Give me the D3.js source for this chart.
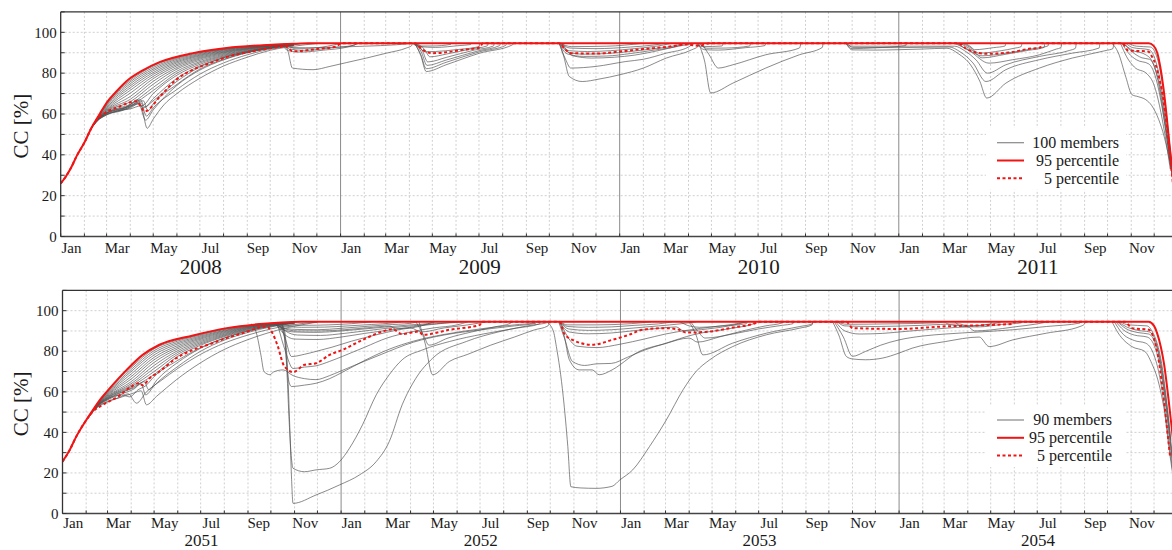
<!DOCTYPE html>
<html><head><meta charset="utf-8">
<script src="https://cdn.jsdelivr.net/npm/d3@7"></script>
<style>
body{margin:0;background:#fff}
svg{display:block}
text{font-family:"Liberation Serif","Times New Roman",serif;fill:#1a1a1a}
</style>
</head><body>
<svg id="chart" width="1172" height="550"></svg>
<script>
// ---------------- DATA ----------------
const monthLabels = ["Jan","Mar","May","Jul","Sep","Nov"];
const monthLabelIdx = [0,2,4,6,8,10];
const yTicks = [0,20,40,60,80,100];
const topYears = ["2008","2009","2010","2011"];
const botYears = ["2051","2052","2053","2054"];
const topLegend = ["100 members","95 percentile","5 percentile"];
const botLegend = ["90 members","95 percentile","5 percentile"];

// ----- top panel (2008-2011) -----
const topP95 = [["2008-01-01",26],["2008-01-08",29.5],["2008-01-15",34],["2008-01-22",39.5],["2008-02-01",46],["2008-02-10",53],["2008-02-21",60],["2008-03-01",65.5],["2008-03-15",71.5],["2008-03-27",76],["2008-04-18",81.5],["2008-05-10",85.5],["2008-06-22",89.8],["2008-08-05",92.3],["2008-09-17",93.6],["2008-10-31",94.4],["2008-11-20",94.6],["2011-11-24",94.6],["2011-11-30",93.5],["2011-12-05",90],["2011-12-09",83],["2011-12-13",73],["2011-12-17",60],["2011-12-21",45],["2011-12-27",25]];

const topP5 = [["2008-01-01",26],["2008-01-08",29.5],["2008-01-15",34],["2008-01-22",39.5],["2008-02-01",46],["2008-02-10",53],["2008-02-18",57.5],["2008-02-28",60.5],["2008-03-16",63.4],["2008-04-09",66.2],["2008-04-20",61.3],["2008-05-10",68.6],["2008-05-31",76.8],["2008-06-22",81.7],["2008-07-14",84.9],["2008-08-05",87.9],["2008-08-27",89.8],["2008-09-17",91.4],["2008-10-13",92.8],["2008-10-22",93.2],["2008-10-30",90.7],["2008-12-01",91.8],["2008-12-26",93],["2009-01-02",94.6],
["2009-04-08",94.6],["2009-04-18",91.5],["2009-04-30",89.8],["2009-05-20",90.3],["2009-06-09",91.4],["2009-07-02",92.6],["2009-07-06",94.6],
["2009-10-14",94.6],["2009-10-22",91.5],["2009-10-29",89.8],["2009-12-01",89.6],["2010-01-01",90.6],["2010-02-01",91.8],["2010-03-03",92.8],["2010-03-30",94],["2010-04-14",93.4],["2010-04-29",94.6],
["2011-03-20",94.6],["2011-03-30",92],["2011-04-08",90.6],["2011-04-25",89.5],["2011-05-25",90.1],["2011-06-20",91.9],["2011-07-05",92.5],["2011-07-06",94.6],
["2011-10-20",94.6],["2011-10-28",91.1],["2011-11-23",90.6],["2011-11-28",88.2],["2011-12-03",84],["2011-12-08",76.8],["2011-12-13",67],["2011-12-17",55.6],["2011-12-21",42],["2011-12-26",24]];

const topMembers = [
// spring 2008 growth bundle
[["2008-02-10",53],["2008-02-18",58.2],["2008-03-01",65.2],["2008-04-01",76.5],["2008-05-01",83.5],["2008-06-01",87.8],["2008-07-01",90.3],["2008-08-01",91.9],["2008-09-01",93.1],["2008-10-01",93.9],["2008-11-01",94.4]],
[["2008-02-10",53],["2008-02-18",58.1],["2008-03-01",64.8],["2008-04-01",75.7],["2008-05-01",82.8],["2008-06-01",87.3],["2008-07-01",90],["2008-08-01",91.7],["2008-09-01",93],["2008-10-01",93.8],["2008-11-01",94.4]],
[["2008-02-10",53],["2008-02-18",58],["2008-03-01",64.3],["2008-04-01",74.8],["2008-05-01",82],["2008-06-01",86.8],["2008-07-01",89.6],["2008-08-01",91.5],["2008-09-01",92.8],["2008-10-01",93.7],["2008-11-01",94.3]],
[["2008-02-10",53],["2008-02-18",57.9],["2008-03-01",63.8],["2008-04-01",73.8],["2008-05-01",81.2],["2008-06-01",86.2],["2008-07-01",89.2],["2008-08-01",91.2],["2008-09-01",92.6],["2008-10-01",93.6],["2008-11-01",94.3]],
[["2008-02-10",53],["2008-02-18",57.8],["2008-03-01",63.2],["2008-04-01",72.8],["2008-05-01",80.3],["2008-06-01",85.6],["2008-07-01",88.8],["2008-08-01",90.9],["2008-09-01",92.4],["2008-10-01",93.5],["2008-11-01",94.3]],
[["2008-02-10",53],["2008-02-18",57.7],["2008-03-01",62.7],["2008-04-01",71.6],["2008-05-01",79.4],["2008-06-01",85],["2008-07-01",88.4],["2008-08-01",90.6],["2008-09-01",92.2],["2008-10-01",93.4],["2008-11-01",94.2]],
[["2008-02-10",53],["2008-02-18",57.6],["2008-03-01",62.2],["2008-04-01",70.2],["2008-05-01",78.4],["2008-06-01",84.3],["2008-07-01",87.9],["2008-08-01",90.3],["2008-09-01",92],["2008-10-01",93.3],["2008-11-01",94.2]],
[["2008-02-10",53],["2008-02-18",57.5],["2008-03-01",61.8],["2008-04-01",68.6],["2008-05-01",77.3],["2008-06-01",83.6],["2008-07-01",87.4],["2008-08-01",90],["2008-09-01",91.8],["2008-10-01",93.2],["2008-11-01",94.1]],
[["2008-02-10",53],["2008-02-18",57.4],["2008-03-01",61.5],["2008-04-01",67.2],["2008-05-01",76],["2008-06-01",82.8],["2008-07-01",86.9],["2008-08-01",89.6],["2008-09-01",91.6],["2008-10-01",93],["2008-11-01",94.1]],
[["2008-02-10",53],["2008-02-18",57.3],["2008-03-01",61.2],["2008-04-01",66],["2008-05-01",74.6],["2008-06-01",82],["2008-07-01",86.3],["2008-08-01",89.2],["2008-09-01",91.3],["2008-10-01",92.9],["2008-11-01",94]],
[["2008-02-10",53],["2008-02-18",57.2],["2008-03-01",60.8],["2008-04-01",64.8],["2008-05-01",73],["2008-06-01",81],["2008-07-01",85.6],["2008-08-01",88.8],["2008-09-01",91],["2008-10-01",92.7],["2008-11-01",94]],
[["2008-02-10",53],["2008-02-18",57.2],["2008-03-01",60.5],["2008-04-01",64],["2008-05-01",71.5],["2008-06-01",80],["2008-07-01",85],["2008-08-01",88.4],["2008-09-01",90.8],["2008-10-01",92.6],["2008-11-01",93.9]],
[["2008-02-10",53],["2008-02-18",57],["2008-03-01",60.3],["2008-04-01",63.5],["2008-04-10",65.5],["2008-04-16",64],["2008-05-01",70],["2008-06-01",79],["2008-07-01",84.3],["2008-08-01",88],["2008-09-01",90.5],["2008-10-01",92.4],["2008-11-01",93.8]],
[["2008-02-10",53],["2008-02-18",57],["2008-03-01",60],["2008-03-20",62],["2008-04-01",64.5],["2008-04-14",67],["2008-04-20",63.5],["2008-05-01",67.5],["2008-06-01",77.5],["2008-07-01",83.5],["2008-08-01",87.6],["2008-09-01",90.2],["2008-10-01",92.2],["2008-11-01",93.7]],
[["2008-02-10",53],["2008-02-18",56.8],["2008-03-01",59.8],["2008-03-20",61.5],["2008-04-01",63.5],["2008-04-12",65],["2008-04-21",57],["2008-05-01",62],["2008-06-01",74],["2008-07-01",81.5],["2008-08-01",86.5],["2008-09-01",90],["2008-10-01",92.3],["2008-11-01",93.9],["2008-11-10",94.5]],
[["2008-02-10",53],["2008-02-18",57],["2008-03-01",60.5],["2008-04-01",64.5],["2008-04-10",67],["2008-04-18",63],["2008-05-01",66.5],["2008-06-01",76],["2008-07-01",83],["2008-08-01",87.5],["2008-09-01",90.6],["2008-10-01",92.6],["2008-11-01",94.2]],
[["2008-02-10",53],["2008-02-18",56.6],["2008-03-01",59.5],["2008-03-15",61.5],["2008-04-01",62.5],["2008-04-15",64],["2008-04-23",53],["2008-05-01",57.5],["2008-05-15",64.5],["2008-06-01",70],["2008-07-01",77.5],["2008-08-01",83.5],["2008-09-01",87.8],["2008-10-01",91.2],["2008-11-01",93.2],["2008-12-01",94.5]],
[["2008-02-10",53],["2008-02-18",56.7],["2008-03-01",59.6],["2008-04-01",63],["2008-04-15",65.5],["2008-04-22",59],["2008-05-01",63],["2008-06-01",72],["2008-07-01",79.5],["2008-08-01",85],["2008-09-01",89],["2008-10-01",91.8],["2008-11-01",93.6]],
[["2008-02-10",53],["2008-02-18",56.9],["2008-03-01",60.2],["2008-03-25",63],["2008-04-05",64.5],["2008-04-18",66.5],["2008-04-24",61.5],["2008-05-01",65],["2008-06-01",74.5],["2008-07-01",82],["2008-08-01",86.8],["2008-09-01",90.2],["2008-10-01",92.4],["2008-11-01",94]],
// autumn 2008
[["2008-10-18",94.3],["2008-10-24",91],["2008-10-30",82.5],["2008-11-26",81.7],["2008-12-18",83.3],["2009-01-09",85.2],["2009-02-04",87.4],["2009-03-02",89.8],["2009-03-28",92.3],["2009-04-04",93.5],["2009-04-05",94.6]],
[["2008-10-15",94.2],["2008-10-25",91],["2008-11-10",90.3],["2008-12-10",91.3],["2009-01-10",92.8],["2009-01-25",94.6]],
[["2008-10-20",94.4],["2008-10-28",92.5],["2008-11-20",92.2],["2008-12-15",93.2],["2009-01-01",94.6]],
[["2008-10-18",94.3],["2008-10-26",91.8],["2008-11-15",91.2],["2008-12-20",92.4],["2009-01-20",93.8],["2009-01-21",94.6]],
[["2008-10-22",94.5],["2008-11-01",92.3],["2008-12-01",92.5],["2009-02-01",93.2],["2009-03-15",93.9],["2009-04-05",94.6]],
// spring 2009
[["2009-04-08",94.6],["2009-04-16",88.5],["2009-04-23",80.8],["2009-05-19",84.1],["2009-07-02",89.8],["2009-08-14",93.9],["2009-08-15",94.6]],
[["2009-04-08",94.6],["2009-04-16",89],["2009-04-23",82.2],["2009-05-19",85.3],["2009-07-02",90.5],["2009-08-05",93.6],["2009-08-06",94.6]],
[["2009-04-09",94.6],["2009-04-17",90],["2009-04-24",83.8],["2009-05-19",86.4],["2009-07-01",91],["2009-07-28",93.5],["2009-07-29",94.6]],
[["2009-04-09",94.6],["2009-04-18",91],["2009-04-25",85.5],["2009-05-20",87.8],["2009-06-25",91.3],["2009-07-20",93.3],["2009-07-21",94.6]],
[["2009-04-10",94.6],["2009-04-20",92],["2009-04-28",88],["2009-05-20",89.4],["2009-06-20",91.8],["2009-07-12",93.4],["2009-07-13",94.6]],
[["2009-04-06",94.6],["2009-04-15",93],["2009-05-05",92.6],["2009-06-05",93.5],["2009-06-20",94],["2009-06-21",94.6]],
[["2009-04-05",94.6],["2009-04-12",93.3],["2009-05-01",93.3],["2009-05-25",94.1],["2009-05-26",94.6]],
[["2009-04-10",94.6],["2009-04-22",90.5],["2009-05-05",90.6],["2009-06-01",91.5],["2009-07-01",93],["2009-07-02",94.6]],
// autumn 2009
[["2009-10-14",94.6],["2009-10-20",88],["2009-10-27",78.4],["2009-11-13",75.9],["2009-12-05",77.1],["2010-01-01",79.2],["2010-02-01",82.5],["2010-03-03",87.4],["2010-04-05",91.4],["2010-04-14",93.3],["2010-04-15",94.6]],
[["2009-10-14",94.6],["2009-10-22",87],["2009-10-29",82.5],["2009-12-01",83.3],["2010-01-09",85.7],["2010-02-01",86.8],["2010-03-03",89.8],["2010-04-01",92.8],["2010-04-08",94.6]],
[["2009-10-14",94.6],["2009-10-24",89.5],["2009-11-15",88.2],["2009-12-15",88.4],["2010-01-15",89.6],["2010-02-15",91.3],["2010-03-15",93],["2010-03-28",94.6]],
[["2009-10-15",94.6],["2009-10-26",90.2],["2009-11-15",89.3],["2009-12-15",89.6],["2010-01-15",90.6],["2010-02-15",92],["2010-03-15",93.5],["2010-03-25",94.6]],
[["2009-10-15",94.6],["2009-10-27",91],["2009-11-20",90.6],["2009-12-20",91],["2010-01-20",92],["2010-02-20",93.3],["2010-03-10",94.6]],
[["2009-10-16",94.6],["2009-10-28",92.3],["2009-12-01",92],["2010-01-15",92.8],["2010-02-15",93.8],["2010-03-01",94.6]],
[["2009-10-15",94.6],["2009-10-30",93],["2009-12-15",93.2],["2010-01-31",94.6]],
[["2009-10-18",94.6],["2009-11-01",88.5],["2009-11-25",87.4],["2009-12-25",87.8],["2010-01-20",88.8],["2010-02-20",91],["2010-03-20",93.3],["2010-04-10",94.6]],
// spring 2010
[["2010-04-14",94.6],["2010-04-22",86],["2010-04-30",70.3],["2010-05-29",75.1],["2010-07-11",82.5],["2010-08-24",89],["2010-09-23",92.6],["2010-09-24",94.6]],
[["2010-04-18",94.6],["2010-04-28",89],["2010-05-10",82.5],["2010-05-29",84.1],["2010-07-11",89],["2010-08-24",92.3],["2010-08-26",94.6]],
[["2010-04-12",94.6],["2010-04-22",91.5],["2010-05-10",91.3],["2010-06-15",92.5],["2010-07-10",93.5],["2010-07-11",94.6]],
[["2010-04-10",94.6],["2010-04-20",93],["2010-05-15",93.3],["2010-05-16",94.6]],
[["2010-04-15",94.6],["2010-04-25",92.2],["2010-05-20",92.3],["2010-06-20",93.3],["2010-06-21",94.6]],
// autumn 2010 into 2011
[["2010-10-24",94.6],["2010-11-01",91.4],["2010-12-01",91.3],["2011-01-01",91.5],["2011-02-01",91.8],["2011-03-05",92.2],["2011-03-20",89.5],["2011-04-05",84],["2011-04-17",76],["2011-04-26",67.8],["2011-05-21",75.1],["2011-07-04",82.5],["2011-08-16",87.4],["2011-09-29",91.1],["2011-10-08",92],["2011-10-09",94.6]],
[["2010-10-25",94.6],["2010-11-02",92.6],["2011-01-01",92.5],["2011-03-08",92.8],["2011-03-22",90.5],["2011-04-08",85],["2011-04-25",75.9],["2011-05-21",81.7],["2011-07-04",86.6],["2011-08-16",89.8],["2011-09-20",92.3],["2011-09-21",94.6]],
[["2010-10-24",94.6],["2010-11-01",93.2],["2011-01-15",93.2],["2011-03-15",93.2],["2011-03-28",91],["2011-04-12",86.5],["2011-04-27",80],["2011-05-21",84.1],["2011-07-04",88.2],["2011-08-12",91.1],["2011-08-20",92.2],["2011-08-21",94.6]],
[["2010-10-24",94.6],["2010-11-01",92],["2010-12-01",92.4],["2011-01-10",93.5],["2011-01-11",94.6]],
// spring 2011
[["2011-03-18",94.6],["2011-04-05",90.5],["2011-04-29",84.9],["2011-05-30",86.6],["2011-07-04",89],["2011-07-26",91.8],["2011-08-01",92.5],["2011-08-02",94.6]],
[["2011-03-22",94.6],["2011-04-08",91],["2011-04-20",87.5],["2011-05-20",89.2],["2011-06-20",91.2],["2011-07-10",92.6],["2011-07-11",94.6]],
[["2011-03-25",94.6],["2011-04-05",92.5],["2011-04-15",89.8],["2011-05-15",91],["2011-06-01",92.2],["2011-06-10",93],["2011-06-11",94.6]],
[["2011-03-28",94.6],["2011-04-05",93],["2011-04-10",91.5],["2011-05-05",92.5],["2011-05-20",93.3],["2011-05-21",94.6]],
[["2011-03-15",94.6],["2011-03-30",92],["2011-04-20",88.5],["2011-05-25",90],["2011-06-25",92],["2011-07-15",93.3],["2011-07-16",94.6]],
// end 2011
[["2011-10-07",94.6],["2011-10-15",90],["2011-10-25",78],["2011-11-02",69.4],["2011-11-10",68.5],["2011-11-20",67],["2011-11-28",64],["2011-12-07",57.2],["2011-12-14",49],["2011-12-20",39.3],["2011-12-26",28]],
[["2011-10-18",94.6],["2011-10-26",88],["2011-11-05",83],["2011-11-22",79.5],["2011-12-01",74],["2011-12-08",64],["2011-12-15",50],["2011-12-22",33]],
[["2011-10-20",94.6],["2011-10-28",90],["2011-11-08",86.5],["2011-11-24",84.5],["2011-12-02",79],["2011-12-09",68],["2011-12-16",52],["2011-12-23",33]],
[["2011-10-22",94.6],["2011-11-01",91.5],["2011-11-20",89],["2011-11-28",86],["2011-12-05",78],["2011-12-12",63],["2011-12-19",44],["2011-12-25",28]],
[["2011-10-25",94.6],["2011-11-03",92.5],["2011-11-24",91.5],["2011-12-01",88],["2011-12-08",78],["2011-12-14",63],["2011-12-20",44],["2011-12-26",26]],
[["2011-10-28",94.6],["2011-11-08",93.2],["2011-11-26",92.8],["2011-12-03",89.5],["2011-12-09",81],["2011-12-15",66],["2011-12-21",46],["2011-12-27",26]],
[["2011-10-22",94.6],["2011-11-02",90.5],["2011-11-15",87.5],["2011-11-25",86.8],["2011-12-03",81.5],["2011-12-10",70],["2011-12-17",52],["2011-12-24",32]]
];

// ----- bottom panel (2051-2054) -----
const botP95 = [["2051-01-01",25.6],["2051-01-10",31],["2051-01-19",37.9],["2051-02-01",46],["2051-02-08",50],["2051-02-20",56.5],["2051-03-04",61.8],["2051-03-26",70.8],["2051-04-16",78.2],["2051-05-08",83.2],["2051-06-21",87.8],["2051-08-04",91.4],["2051-09-16",93.4],["2051-10-15",94.2],["2051-11-10",94.5],["2054-11-24",94.5],["2054-12-01",92.5],["2054-12-05",88.9],["2054-12-10",82],["2054-12-14",74],["2054-12-21",53],["2054-12-26",36],["2054-12-31",18]];

const botP5 = [["2051-01-01",25.6],["2051-01-10",31],["2051-01-19",37.9],["2051-02-01",46],["2051-02-10",50.3],["2051-02-23",53.6],["2051-03-15",57.7],["2051-04-01",62.6],["2051-04-12",64.3],["2051-04-16",63.2],["2051-04-25",66.7],["2051-05-08",70],["2051-05-30",76.6],["2051-06-21",80.7],["2051-07-13",83.5],["2051-08-04",86.5],["2051-08-25",88.9],["2051-09-25",92.2],["2051-10-03",89],["2051-10-10",82.5],["2051-10-18",73],["2051-10-30",69.7],["2051-11-14",73.3],["2051-11-29",74.1],["2051-12-17",78.2],["2052-01-03",80.7],["2052-01-29",85.6],["2052-02-24",89.7],["2052-03-08",90.9],["2052-03-21",88.5],["2052-04-12",89.7],["2052-04-17",88.1],["2052-05-22",90.6],["2052-07-01",93],["2052-07-03",94.5],
["2052-10-13",94.5],["2052-10-19",88.9],["2052-10-30",85.6],["2052-11-25",83.2],["2052-12-21",85.6],["2053-01-12",88.1],["2053-01-30",90.6],["2053-03-02",91.4],["2053-03-19",90.6],["2053-03-28",89.2],["2053-04-28",89.7],["2053-05-28",91.7],["2053-06-27",93.9],["2053-06-30",94.5],
["2053-10-24",94.5],["2053-11-01",91.4],["2054-01-01",91],["2054-02-27",92.2],["2054-05-30",93.5],["2054-06-01",94.5],
["2054-10-24",94.5],["2054-11-02",91.4],["2054-11-24",90.6],["2054-12-01",86],["2054-12-06",78],["2054-12-12",62],["2054-12-18",42],["2054-12-22",28]];

const botMembers = [
// spring 2051 growth bundle
[["2051-02-05",48],["2051-02-14",53.4],["2051-03-01",60.2],["2051-04-01",72],["2051-05-01",81.2],["2051-06-01",85.6],["2051-07-01",88.4],["2051-08-01",91],["2051-09-01",92.7],["2051-10-01",93.8],["2051-11-01",94.4]],
[["2051-02-05",48],["2051-02-14",53.3],["2051-03-01",59.8],["2051-04-01",71],["2051-05-01",80.3],["2051-06-01",85],["2051-07-01",88],["2051-08-01",90.7],["2051-09-01",92.5],["2051-10-01",93.7],["2051-11-01",94.3]],
[["2051-02-05",48],["2051-02-14",53.2],["2051-03-01",59.4],["2051-04-01",70],["2051-05-01",79.3],["2051-06-01",84.3],["2051-07-01",87.5],["2051-08-01",90.3],["2051-09-01",92.3],["2051-10-01",93.6],["2051-11-01",94.3]],
[["2051-02-05",48],["2051-02-14",53.1],["2051-03-01",59],["2051-04-01",68.8],["2051-05-01",78.2],["2051-06-01",83.6],["2051-07-01",87],["2051-08-01",90],["2051-09-01",92.1],["2051-10-01",93.5],["2051-11-01",94.3]],
[["2051-02-05",48],["2051-02-14",53],["2051-03-01",58.6],["2051-04-01",67.5],["2051-05-01",77],["2051-06-01",82.8],["2051-07-01",86.5],["2051-08-01",89.6],["2051-09-01",91.9],["2051-10-01",93.4],["2051-11-01",94.2]],
[["2051-02-05",48],["2051-02-14",52.9],["2051-03-01",58.2],["2051-04-01",66.3],["2051-05-01",75.8],["2051-06-01",82],["2051-07-01",86],["2051-08-01",89.2],["2051-09-01",91.7],["2051-10-01",93.3],["2051-11-01",94.2]],
[["2051-02-05",48],["2051-02-14",52.8],["2051-03-01",57.8],["2051-04-01",65],["2051-05-01",74.5],["2051-06-01",81.2],["2051-07-01",85.4],["2051-08-01",88.8],["2051-09-01",91.5],["2051-10-01",93.2],["2051-11-01",94.2]],
[["2051-02-05",48],["2051-02-14",52.7],["2051-03-01",57.5],["2051-04-01",64],["2051-05-01",73],["2051-06-01",80.3],["2051-07-01",84.8],["2051-08-01",88.4],["2051-09-01",91.2],["2051-10-01",93],["2051-11-01",94.1]],
[["2051-02-05",48],["2051-02-14",52.6],["2051-03-01",57.2],["2051-04-01",63.2],["2051-05-01",71.5],["2051-06-01",79.4],["2051-07-01",84.2],["2051-08-01",88],["2051-09-01",91],["2051-10-01",92.9],["2051-11-01",94.1]],
[["2051-02-05",48],["2051-02-14",52.5],["2051-03-01",57],["2051-04-01",62.5],["2051-05-01",70],["2051-06-01",78.5],["2051-07-01",83.6],["2051-08-01",87.6],["2051-09-01",90.7],["2051-10-01",92.8],["2051-11-01",94]],
[["2051-02-05",48],["2051-02-14",52.4],["2051-03-01",56.7],["2051-04-01",61.8],["2051-05-01",68.5],["2051-06-01",77.5],["2051-07-01",83],["2051-08-01",87.2],["2051-09-01",90.4],["2051-10-01",92.6],["2051-11-01",94]],
[["2051-02-05",48],["2051-02-14",51.8],["2051-03-01",55],["2051-03-20",57.5],["2051-04-05",59.5],["2051-04-14",60.5],["2051-04-21",53.6],["2051-05-04",57.7],["2051-05-30",65.9],["2051-06-30",74.1],["2051-07-31",80.7],["2051-08-31",85.6],["2051-09-26",88.9],["2051-10-20",91.4],["2051-11-10",93],["2051-12-01",94.4]],
[["2051-02-05",48],["2051-02-14",52],["2051-03-01",55.3],["2051-03-15",57],["2051-03-28",59],["2051-04-08",54.4],["2051-04-21",60],["2051-05-10",65.5],["2051-06-01",71.5],["2051-07-01",78.5],["2051-08-01",84],["2051-09-01",88],["2051-10-01",91],["2051-11-01",93.2],["2051-12-01",94.4]],
[["2051-02-05",48],["2051-02-14",52.2],["2051-03-01",56],["2051-03-20",59],["2051-04-05",61.5],["2051-04-14",64],["2051-04-20",58.5],["2051-05-01",63],["2051-06-01",72.5],["2051-07-01",80],["2051-08-01",85.5],["2051-09-01",89.3],["2051-10-01",92],["2051-11-01",93.8]],
[["2051-02-05",48],["2051-02-14",52.3],["2051-03-01",56.3],["2051-03-25",60.5],["2051-04-05",62],["2051-04-18",65],["2051-04-24",61],["2051-05-05",66],["2051-06-01",74.5],["2051-07-01",81.5],["2051-08-01",86.5],["2051-09-01",90],["2051-10-01",92.3],["2051-11-01",94]],
[["2051-02-05",48],["2051-02-14",52.4],["2051-03-01",56.5],["2051-03-20",58.5],["2051-03-30",57.5],["2051-04-10",61],["2051-04-20",63],["2051-05-01",67.5],["2051-06-01",75.5],["2051-07-01",81.8],["2051-08-01",86.5],["2051-09-01",90],["2051-10-01",92.4],["2051-11-01",94]],
// autumn 2051
[["2051-10-14",94],["2051-10-19",90],["2051-10-23",70],["2051-10-26",40],["2051-10-28",18],["2051-10-30",5],["2051-11-29",9.1],["2051-12-30",14.1],["2052-01-25",19],["2052-02-16",25.6],["2052-03-04",35.4],["2052-03-21",53.6],["2052-04-08",66.7],["2052-04-30",76.6],["2052-06-13",84.8],["2052-07-27",89.7],["2052-09-09",93],["2052-09-26",94],["2052-09-27",94.5]],
[["2051-10-13",94],["2051-10-18",90],["2051-10-22",70],["2051-10-25",45],["2051-10-28",27],["2051-10-30",22.3],["2051-11-14",20.6],["2051-11-29",21.5],["2051-12-17",22.3],["2051-12-30",25.6],["2052-01-12",32.2],["2052-01-29",43.7],["2052-02-16",58.5],["2052-03-04",68.4],["2052-03-21",75.8],["2052-04-17",80.7],["2052-05-22",84.8],["2052-07-05",88.5],["2052-08-18",91.4],["2052-09-17",93.5],["2052-09-18",94.5]],
[["2051-09-05",93.6],["2051-09-12",89],["2051-09-18",78],["2051-09-22",70],["2051-09-30",68.4],["2051-10-04",69.7],["2051-10-17",70.8],["2051-10-30",68],["2051-11-14",66.5],["2051-11-29",66],["2051-12-17",68],["2051-12-30",70],["2052-02-21",78.2],["2052-04-05",84.5],["2052-05-15",88],["2052-07-01",90.5],["2052-08-15",92.5],["2052-09-12",93.8],["2052-09-13",94.5]],
[["2051-10-14",94],["2051-10-19",86],["2051-10-24",66],["2051-10-28",62.6],["2051-11-14",63.3],["2051-11-29",64.2],["2051-12-17",66.5],["2052-01-02",69.5],["2052-02-01",75.5],["2052-03-04",81],["2052-04-05",85],["2052-05-15",88.3],["2052-07-01",91],["2052-08-15",93],["2052-09-10",94],["2052-09-11",94.5]],
[["2051-10-12",94],["2051-10-20",86],["2051-10-28",77.4],["2051-11-14",78.5],["2051-11-29",79.9],["2051-12-20",82],["2052-01-15",85],["2052-02-15",88],["2052-03-15",90.5],["2052-04-15",92.5],["2052-05-01",94.5]],
[["2051-10-10",93],["2051-10-20",80],["2051-10-30",71.5],["2051-11-14",72.2],["2051-11-29",72.8],["2051-12-17",75],["2052-01-03",77.5],["2052-02-01",82],["2052-03-01",86.5],["2052-04-01",89.5],["2052-05-01",91.5],["2052-06-01",93],["2052-06-15",94.5]],
[["2051-10-05",93.8],["2051-10-15",91],["2051-11-01",89.5],["2051-12-01",89.3],["2052-01-01",90],["2052-02-01",91],["2052-03-01",92],["2052-04-01",93],["2052-05-01",94],["2052-05-02",94.5]],
[["2051-10-05",93.8],["2051-10-14",92],["2051-11-01",90.8],["2051-12-01",90.6],["2052-01-01",91.3],["2052-02-01",92.2],["2052-03-01",93],["2052-04-01",93.8],["2052-04-10",94.5]],
[["2051-10-08",94],["2051-10-18",92.5],["2051-11-10",91.8],["2051-12-10",91.9],["2052-01-10",92.5],["2052-02-10",93.2],["2052-03-10",94],["2052-03-20",94.5]],
[["2051-10-08",94],["2051-10-20",90],["2051-11-05",88],["2051-12-05",87.8],["2052-01-05",88.8],["2052-02-05",90.2],["2052-03-05",91.5],["2052-04-05",92.6],["2052-05-05",93.6],["2052-06-01",94.5]],
[["2051-10-10",94.2],["2051-10-18",93],["2051-11-15",92.8],["2051-12-15",93],["2052-01-15",93.6],["2052-02-10",94.5]],
[["2051-10-06",93.9],["2051-10-16",91.5],["2051-11-05",90],["2051-12-05",90],["2052-01-05",90.6],["2052-02-05",91.6],["2052-03-05",92.4],["2052-03-12",91],["2052-04-12",92.5],["2052-05-15",93.8],["2052-06-10",94.5]],
[["2051-10-07",94],["2051-10-17",89],["2051-11-01",86],["2051-12-01",85.8],["2052-01-01",87],["2052-02-01",88.8],["2052-03-01",90.3],["2052-04-01",91.5],["2052-04-15",89.5],["2052-05-15",91.5],["2052-06-15",93],["2052-07-10",94.5]],
// spring 2052
[["2052-04-12",94.5],["2052-04-20",84],["2052-04-30",68.4],["2052-05-22",75],["2052-06-15",78.5],["2052-07-15",83],["2052-08-15",87],["2052-09-10",90.5],["2052-09-28",92.5],["2052-09-30",94.5]],
[["2052-04-08",94.5],["2052-04-18",88],["2052-04-25",83],["2052-05-20",86.5],["2052-06-20",89.5],["2052-07-20",92],["2052-08-10",93.8],["2052-08-11",94.5]],
// autumn 2052
[["2052-09-26",94.5],["2052-10-05",90],["2052-10-09",82.3],["2052-10-18",57.7],["2052-10-24",33],["2052-10-28",13.2],["2052-11-10",12.6],["2052-11-30",12.4],["2052-12-21",13.4],["2052-12-31",16.5],["2053-01-17",21.5],["2053-02-08",33],["2053-03-02",46.1],["2053-03-24",61],["2053-04-10",70],["2053-04-28",75.8],["2053-05-28",82.3],["2053-07-11",88.1],["2053-08-24",91.4],["2053-09-09",93],["2053-09-10",94.5]],
[["2052-10-13",94.5],["2052-10-19",88],["2052-10-26",75.8],["2052-11-08",70.8],["2052-11-25",70.8],["2052-12-04",68.4],["2052-12-21",70.8],["2053-01-12",76.6],["2053-01-17",78],["2053-03-02",84],["2053-04-06",88.1],["2053-05-28",91.4],["2053-06-24",93.5],["2053-06-25",94.5]],
[["2052-10-12",94.5],["2052-10-20",86],["2052-10-30",75],["2052-11-15",73],["2052-12-01",73.8],["2052-12-20",74],["2053-01-10",77],["2053-02-01",80.5],["2053-03-01",83.8],["2053-04-01",86.5],["2053-04-12",84.5],["2053-05-10",87],["2053-06-10",90],["2053-07-10",92.5],["2053-08-01",94],["2053-08-02",94.5]],
[["2052-10-14",94.5],["2052-10-24",87],["2052-11-05",82.5],["2052-12-01",81.8],["2053-01-01",83.5],["2053-02-01",86],["2053-03-01",88.5],["2053-04-01",90.5],["2053-05-01",92],["2053-06-01",93.5],["2053-06-15",94.5]],
[["2052-10-14",94.5],["2052-10-25",91],["2052-11-20",90.3],["2052-12-20",90.6],["2053-01-20",91.5],["2053-02-20",92.5],["2053-03-20",93.5],["2053-04-10",94.5]],
[["2052-10-14",94.5],["2052-10-24",92.2],["2052-11-20",91.8],["2052-12-20",92],["2053-01-20",92.8],["2053-02-20",93.5],["2053-03-10",94.5]],
[["2052-10-15",94.5],["2052-10-23",93],["2052-12-01",93],["2053-01-15",93.6],["2053-02-10",94.5]],
[["2052-10-13",94.5],["2052-10-26",89.5],["2052-11-20",88.6],["2052-12-20",89],["2053-01-20",90.2],["2053-02-20",91.3],["2053-03-15",92],["2053-03-25",90],["2053-04-25",91],["2053-05-25",92.6],["2053-06-15",94.5]],
// spring 2053
[["2053-04-01",94.5],["2053-04-10",88],["2053-04-19",78.2],["2053-05-28",84],["2053-07-11",88.9],["2053-08-24",92.2],["2053-09-09",93.5],["2053-09-10",94.5]],
[["2053-04-03",94.5],["2053-04-12",90],["2053-04-22",86.5],["2053-05-28",88.5],["2053-07-01",91],["2053-08-01",92.8],["2053-08-15",93.6],["2053-08-16",94.5]],
[["2053-03-20",94.5],["2053-04-01",92.5],["2053-04-15",91.8],["2053-05-15",92.5],["2053-06-15",93.6],["2053-06-16",94.5]],
// autumn 2053
[["2053-10-06",94.5],["2053-10-14",88],["2053-10-24",77.4],["2053-11-01",76.2],["2053-11-18",75.8],["2053-12-10",76.6],["2054-01-01",79.1],["2054-01-18",81.5],["2054-03-03",84.8],["2054-04-16",87],["2054-04-29",82.3],["2054-05-30",85.6],["2054-07-13",88.9],["2054-08-26",92.2],["2054-09-01",93.5],["2054-09-02",94.5]],
[["2053-10-08",94.5],["2053-10-20",87],["2053-11-01",77.5],["2053-11-18",79.9],["2053-12-08",83],["2054-01-01",85.6],["2054-02-01",87.5],["2054-03-03",88.5],["2054-04-16",89.5],["2054-05-30",90.6],["2054-07-13",92.2],["2054-08-26",93.9],["2054-08-27",94.5]],
[["2053-10-10",94.5],["2053-10-22",90],["2053-11-10",88.5],["2053-12-10",88.8],["2054-01-10",89.8],["2054-03-01",91.3],["2054-04-01",92],["2054-04-10",90],["2054-05-01",90.5],["2054-06-01",92],["2054-07-01",93.5],["2054-07-15",94.5]],
[["2053-10-12",94.5],["2053-10-22",92.5],["2053-12-01",92.2],["2054-02-01",92.8],["2054-03-20",93.5],["2054-04-01",92.5],["2054-05-01",93.3],["2054-05-15",94.5]],
[["2053-10-12",94.5],["2053-10-24",93.3],["2053-12-20",93.5],["2054-02-20",94],["2054-03-01",94.5]],
[["2054-03-01",94.5],["2054-03-10",93],["2054-04-01",92.5],["2054-05-01",93.5],["2054-05-02",94.5]],
[["2054-03-15",94.5],["2054-03-25",92.2],["2054-04-15",92],["2054-05-15",93.2],["2054-06-10",94],["2054-06-11",94.5]],
// end 2054
[["2054-10-07",94.5],["2054-10-15",89],["2054-11-02",82.3],["2054-11-19",79.9],["2054-11-28",74],["2054-12-06",65.9],["2054-12-12",56],["2054-12-15",49.5],["2054-12-20",34],["2054-12-26",18]],
[["2054-10-10",94.5],["2054-10-20",89],["2054-11-05",85.3],["2054-11-20",84],["2054-11-30",79],["2054-12-07",70],["2054-12-13",57],["2054-12-19",40],["2054-12-25",22]],
[["2054-10-12",94.5],["2054-10-22",90.5],["2054-11-05",88],["2054-11-22",87],["2054-12-01",83],["2054-12-08",74],["2054-12-14",60],["2054-12-20",42],["2054-12-26",22]],
[["2054-10-15",94.5],["2054-10-26",92],["2054-11-10",90.3],["2054-11-25",89.5],["2054-12-02",86],["2054-12-08",78],["2054-12-14",64],["2054-12-20",46],["2054-12-26",25]],
[["2054-10-18",94.5],["2054-10-28",93],["2054-11-22",92.5],["2054-11-29",89.5],["2054-12-05",84],["2054-12-11",74],["2054-12-17",57],["2054-12-23",36]],
[["2054-10-14",94.5],["2054-10-25",91.2],["2054-11-10",89.2],["2054-11-24",88.5],["2054-12-02",84.5],["2054-12-09",75],["2054-12-15",59],["2054-12-21",40],["2054-12-27",20]]
];

// ---------------- DRAWING ----------------
const svg = d3.select("#chart");
const parse = d3.timeParse("%Y-%m-%d");
const W = 1172;

function panel(o, idx){
  const g = svg.append("g");
  const y0 = o.startYear;
  const x = d3.scaleTime().domain([new Date(y0,0,1), new Date(y0+4,0,1)]).range(o.xr);
  const y = d3.scaleLinear().domain([0,110]).range(o.yr);
  const L = o.xr[0], R = W, B = o.yr[0], T = o.yr[1];

  // horizontal dashed grid
  g.selectAll(null).data(d3.range(10,101,10)).join("line")
    .attr("x1",L).attr("x2",R).attr("y1",d=>y(d)).attr("y2",d=>y(d))
    .attr("stroke","#c4c4c4").attr("stroke-width",0.8).attr("stroke-dasharray","2,2");
  // vertical dashed grid at month starts
  const months = d3.timeMonth.range(new Date(y0,0,1), new Date(y0+4,0,1)).filter(d=>d.getMonth()!==0);
  g.selectAll(null).data(months).join("line")
    .attr("x1",d=>x(d)).attr("x2",d=>x(d)).attr("y1",T).attr("y2",B)
    .attr("stroke","#c4c4c4").attr("stroke-width",0.8).attr("stroke-dasharray","2,2");
  // solid year separators
  const yearStarts = [1,2,3].map(i=>new Date(y0+i,0,1));
  g.selectAll(null).data(yearStarts).join("line")
    .attr("x1",d=>x(d)).attr("x2",d=>x(d)).attr("y1",T).attr("y2",B)
    .attr("stroke","#8a8a8a").attr("stroke-width",1);

  // legend background (covers grid)
  g.append("rect").attr("x",986).attr("y",o.legY-15).attr("width",140).attr("height",62).attr("fill","#fff");

  // clip
  const cid = "clip"+idx;
  svg.append("clipPath").attr("id",cid).append("rect").attr("x",L).attr("y",T).attr("width",R-L).attr("height",B-T);
  const plot = g.append("g").attr("clip-path",`url(#${cid})`);
  const line = d3.line().x(d=>x(parse(d[0]))).y(d=>y(d[1])).curve(d3.curveMonotoneX);

  plot.selectAll(null).data(o.members).join("path")
    .attr("d",line).attr("fill","none").attr("stroke","#505050").attr("stroke-opacity",0.75).attr("stroke-width",0.9);
  plot.append("path").datum(o.p95).attr("d",line).attr("fill","none").attr("stroke","#f01414").attr("stroke-width",2);
  plot.append("path").datum(o.p5).attr("d",line).attr("fill","none").attr("stroke","#f01414").attr("stroke-width",2).attr("stroke-dasharray","3,2.5");

  // axes frame
  g.append("line").attr("x1",L).attr("x2",R).attr("y1",T).attr("y2",T).attr("stroke","#333").attr("stroke-width",1.2);
  g.append("line").attr("x1",L).attr("x2",R).attr("y1",B).attr("y2",B).attr("stroke","#444").attr("stroke-width",1.6);
  g.append("line").attr("x1",L).attr("x2",L).attr("y1",T).attr("y2",B).attr("stroke","#333").attr("stroke-width",1.3);

  // y ticks
  g.selectAll(null).data(d3.range(0,111,10)).join("line")
    .attr("x1",L).attr("x2",L+4).attr("y1",d=>y(d)).attr("y2",d=>y(d)).attr("stroke","#333").attr("stroke-width",1);
  g.selectAll(null).data(yTicks).join("text")
    .attr("x",L-4).attr("y",d=>y(d)).attr("dy","0.35em").attr("text-anchor","end")
    .attr("font-size",15).text(d=>d);
  // x ticks at month starts
  const allMonths = d3.timeMonth.range(new Date(y0,0,1), new Date(y0+4,0,1));
  g.selectAll(null).data(allMonths).join("line")
    .attr("x1",d=>x(d)).attr("x2",d=>x(d)).attr("y1",B).attr("y2",B-3).attr("stroke","#333").attr("stroke-width",1);

  // month labels
  const ml = [];
  for(let i=0;i<4;i++) monthLabels.forEach((m,j)=>ml.push({t:m, d:new Date(y0+i, monthLabelIdx[j], 15)}));
  g.selectAll(null).data(ml).join("text")
    .attr("x",d=>x(d.d)).attr("y",B+o.monthDy).attr("text-anchor","middle").attr("font-size",15).text(d=>d.t);
  // year labels
  g.selectAll(null).data(o.years).join("text")
    .attr("x",(d,i)=>x(new Date(y0+i,6,2))).attr("y",B+o.yearDy).attr("text-anchor","middle").attr("font-size",o.yearSize).text(d=>d);

  // y label
  g.append("text").attr("transform",`translate(28,${(T+B)/2+2}) rotate(-90)`).attr("text-anchor","middle")
    .attr("font-size",21).text("CC [%]");

  // legend
  const ly = [o.legY, o.legY+17.8, o.legY+35.6];
  const styles = [{c:"#888",w:1.2,da:null},{c:"#f01414",w:2,da:null},{c:"#f01414",w:2,da:"3,2.5"}];
  o.legend.forEach((t,i)=>{
    const s = styles[i];
    const ln = g.append("line").attr("x1",997).attr("x2",1024).attr("y1",ly[i]).attr("y2",ly[i])
      .attr("stroke",s.c).attr("stroke-width",s.w);
    if(s.da) ln.attr("stroke-dasharray",s.da);
    g.append("text").attr("x",o.legX).attr("y",ly[i]).attr("dy","0.33em").attr("text-anchor","end")
      .attr("font-size",16).text(t);
  });
}

panel({startYear:2008, xr:[60.7,1177.9], yr:[236.5,11.9], members:topMembers, p95:topP95, p5:topP5,
       years:topYears, legend:topLegend, legY:142.7, legX:1119, monthDy:16.5, yearDy:37, yearSize:21}, 0);
panel({startYear:2051, xr:[62.5,1177.7], yr:[513.5,290.4], members:botMembers, p95:botP95, p5:botP5,
       years:botYears, legend:botLegend, legY:420, legX:1112, monthDy:14.5, yearDy:32.8, yearSize:17}, 1);
</script>
</body></html>
